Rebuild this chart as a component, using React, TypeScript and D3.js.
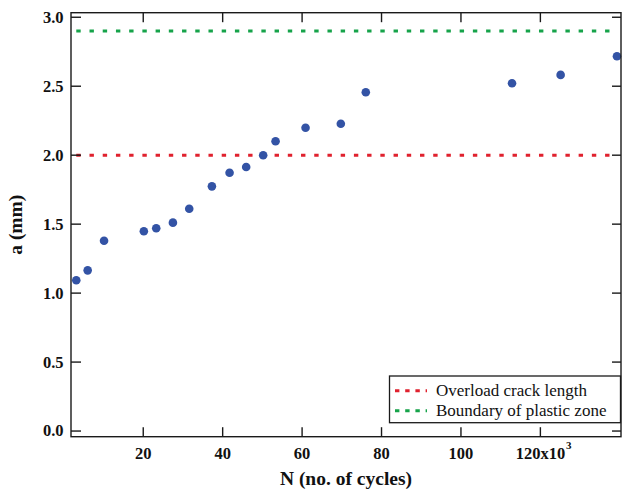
import React from "react";
import * as d3 from "d3";

// Crack length a (mm) vs. number of cycles N (x10^3)
const cycles = [3.14, 6.01, 10.13, 20.15, 23.27, 27.47, 31.58, 37.29, 41.74, 45.92, 50.2, 53.32, 60.87, 69.75, 76.04, 112.86, 125.1, 139.28];
const crackLength = [1.093, 1.165, 1.38, 1.448, 1.47, 1.511, 1.612, 1.774, 1.873, 1.914, 2.0, 2.101, 2.199, 2.228, 2.456, 2.521, 2.582, 2.717];

const xTicks = [20, 40, 60, 80, 100, 120];
const yTicks = [0, 0.5, 1.0, 1.5, 2.0, 2.5, 3.0];

const refLabels = ["Overload crack length", "Boundary of plastic zone"];
const refValues = [2.0, 2.9];
const refColors = ["#e0212e", "#16a34a"];

const W = 622;
const H = 491;
const plot = { left: 71, right: 621, top: 12.7, bottom: 436.7 };

const FONT = "'Liberation Serif', 'Times New Roman', serif";
const AXIS = "#1a1a1a";
const DASH = "4.4 8.82";
const TICK_FS = 16.5;

export default function App() {
  const x = d3.scaleLinear().domain([1.81, 140.3]).range([plot.left, plot.right]);
  const y = d3.scaleLinear().domain([-0.041, 3.033]).range([plot.bottom, plot.top]);

  const lineStart = x(d3.min(cycles) as number);
  const lineEnd = x(d3.max(cycles) as number);

  const points = cycles.map((c, i) => ({ c, a: crackLength[i] }));

  return (
    <svg
      width={W}
      height={H}
      style={{ position: "absolute", left: 0, top: 0, background: "#fff" }}
      fontFamily={FONT}
    >
      {/* reference lines */}
      {refValues.map((v, i) => (
        <line
          key={"ref" + i}
          x1={lineStart}
          x2={lineEnd}
          y1={y(v)}
          y2={y(v)}
          stroke={refColors[i]}
          strokeWidth={3}
          strokeDasharray={DASH}
        />
      ))}

      {/* data points */}
      {points.map((p, i) => (
        <circle key={"p" + i} cx={x(p.c)} cy={y(p.a)} r={4.3} fill="#3353a5" />
      ))}

      {/* frame */}
      <rect
        x={plot.left}
        y={plot.top}
        width={plot.right - plot.left}
        height={plot.bottom - plot.top}
        fill="none"
        stroke={AXIS}
        strokeWidth={1.4}
      />

      {/* x ticks (bottom & top, inward) */}
      {xTicks.map((t) => (
        <g key={"xt" + t}>
          <line x1={x(t)} x2={x(t)} y1={plot.bottom} y2={plot.bottom - 9.5} stroke={AXIS} strokeWidth={1.4} />
          <line x1={x(t)} x2={x(t)} y1={plot.top} y2={plot.top + 9.5} stroke={AXIS} strokeWidth={1.4} />
          <text
            x={x(t)}
            y={459}
            textAnchor="middle"
            fontSize={TICK_FS}
            fontWeight="bold"
            fill="#111"
          >
            {t === 120 ? "120x10" : String(t)}
          </text>
          {t === 120 && (
            <text x={x(t) + 25.5} y={449} fontSize={11} fontWeight="bold" fill="#111">
              3
            </text>
          )}
        </g>
      ))}

      {/* y ticks (left & right, inward) */}
      {yTicks.map((t) => (
        <g key={"yt" + t}>
          <line x1={plot.left} x2={plot.left + 10} y1={y(t)} y2={y(t)} stroke={AXIS} strokeWidth={1.4} />
          <line x1={plot.right} x2={plot.right - 9} y1={y(t)} y2={y(t)} stroke={AXIS} strokeWidth={1.4} />
          <text
            x={63.5}
            y={y(t)}
            dy="0.33em"
            textAnchor="end"
            fontSize={TICK_FS}
            fontWeight="bold"
            fill="#111"
          >
            {t.toFixed(1)}
          </text>
        </g>
      ))}

      {/* axis titles */}
      <text
        x={(plot.left + plot.right) / 2}
        y={485}
        textAnchor="middle"
        fontSize={19.5}
        fontWeight="bold"
        fill="#111"
      >
        N (no. of cycles)
      </text>
      <text
        transform={`translate(22, ${(plot.top + plot.bottom) / 2}) rotate(-90)`}
        textAnchor="middle"
        fontSize={19.5}
        fontWeight="bold"
        fill="#111"
      >
        a (mm)
      </text>

      {/* legend */}
      <g>
        <rect x={389.5} y={376} width={231} height={46.7} fill="#fff" stroke={AXIS} strokeWidth={1.3} />
        {refLabels.map((label, i) => (
          <g key={"lg" + i}>
            <line
              x1={395}
              x2={427}
              y1={390.7 + i * 20}
              y2={390.7 + i * 20}
              stroke={refColors[i]}
              strokeWidth={3}
              strokeDasharray="4.4 5.8"
            />
            <text x={436} y={396 + i * 19.5} fontSize={17} fill="#111">
              {label}
            </text>
          </g>
        ))}
      </g>
    </svg>
  );
}
